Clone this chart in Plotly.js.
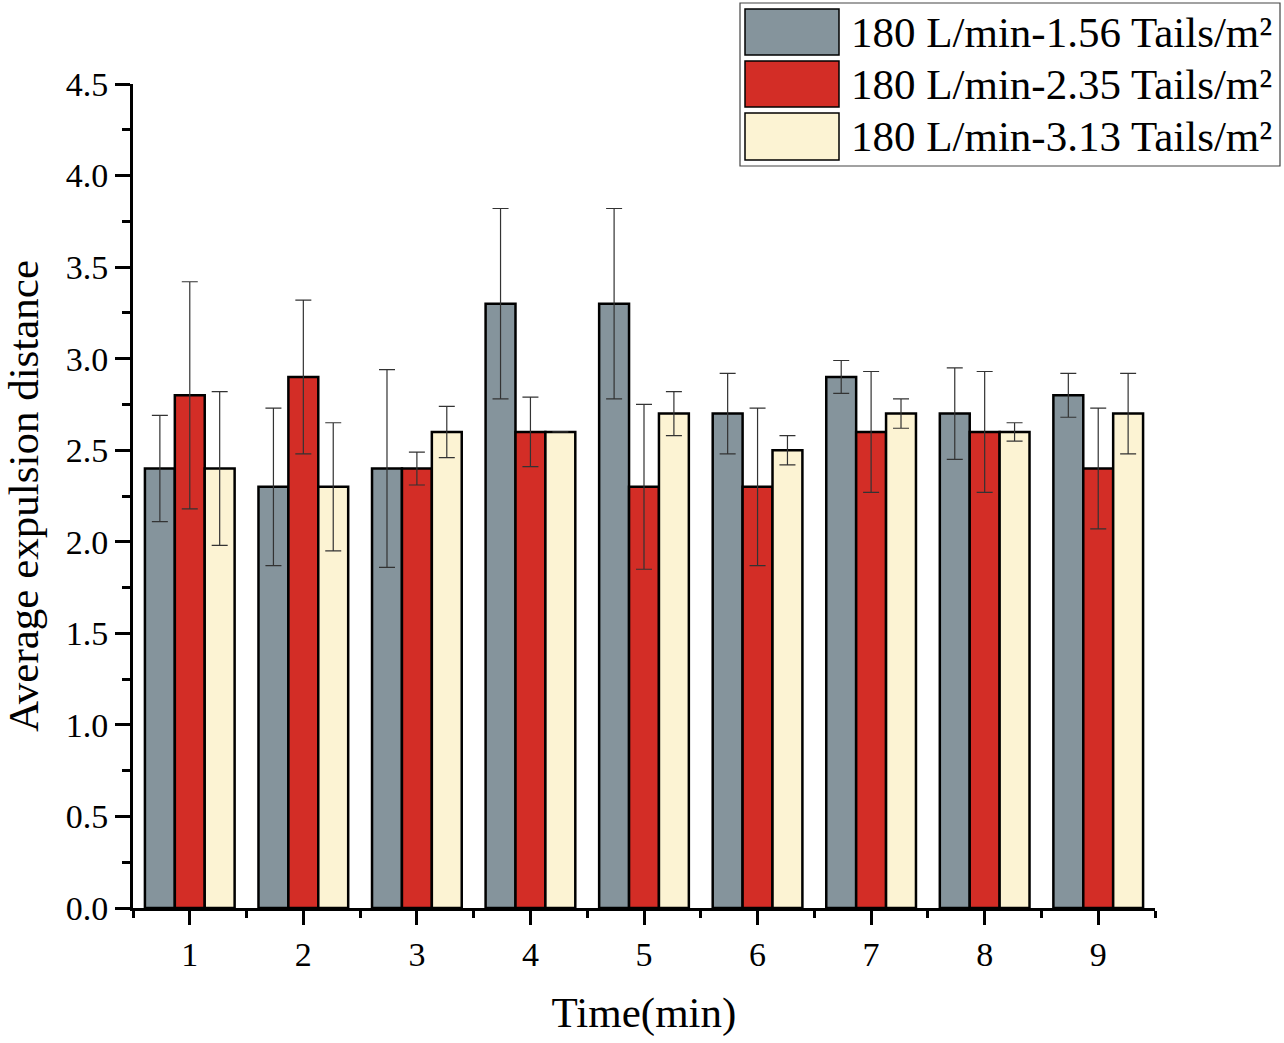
<!DOCTYPE html>
<html>
<head>
<meta charset="utf-8">
<script src="https://cdn.plot.ly/plotly-3.0.1.min.js"></script>
<style>html,body{margin:0;padding:0;background:#fff;}#chart{width:1284px;height:1043px;}</style>
</head>
<body>
<div id="chart"></div>
<script>
// ---- data ----
const times = [1, 2, 3, 4, 5, 6, 7, 8, 9];
const seriesNames = ["180 L/min-1.56 Tails/m²", "180 L/min-2.35 Tails/m²", "180 L/min-3.13 Tails/m²"];
const s156 = [2.4, 2.3, 2.4, 3.3, 3.3, 2.7, 2.9, 2.7, 2.8];
const s235 = [2.8, 2.9, 2.4, 2.6, 2.3, 2.3, 2.6, 2.6, 2.4];
const s313 = [2.4, 2.3, 2.6, 2.6, 2.7, 2.5, 2.7, 2.6, 2.7];
const e156 = [0.29, 0.43, 0.54, 0.52, 0.52, 0.22, 0.09, 0.25, 0.12];
const e235 = [0.62, 0.42, 0.09, 0.19, 0.45, 0.43, 0.33, 0.33, 0.33];
const e313 = [0.42, 0.35, 0.14, 0.00, 0.12, 0.08, 0.08, 0.05, 0.22];
const yTickVals = [0, 0.5, 1, 1.5, 2, 2.5, 3, 3.5, 4, 4.5];
const yTickText = ["0.0", "0.5", "1.0", "1.5", "2.0", "2.5", "3.0", "3.5", "4.0", "4.5"];
const xTickText = ["1", "2", "3", "4", "5", "6", "7", "8", "9"];

// ---- style ----
const colors = ["#85949C", "#D32D26", "#FCF3D3"];
const values = [s156, s235, s313];
const errors = [e156, e235, e313];
const FONT = "'Liberation Serif', 'Times New Roman', serif";

const traces = values.map((v, i) => ({
  type: "bar",
  x: times,
  y: v,
  name: seriesNames[i],
  marker: { color: colors[i], line: { color: "#000", width: 2.5 } },
  error_y: { type: "data", array: errors[i], visible: true, color: "#333", thickness: 1.2, width: 8 },
  showlegend: false
}));

// plot area in pixels
const L = 133, R = 1155, T = 84, B = 908;
const px = x => (x - L) / (R - L);
const py = y => (B - y) / (B - T);

const shapes = [{
  type: "rect", xref: "paper", yref: "paper",
  x0: px(740), x1: px(1280), y0: py(166), y1: py(3),
  line: { color: "#444", width: 1.2 }, fillcolor: "#fff", layer: "above"
}];
const annotations = [];
const rows = [[9, 55], [61, 107], [113, 160]];
rows.forEach((r, i) => {
  shapes.push({
    type: "rect", xref: "paper", yref: "paper",
    x0: px(745), x1: px(839), y0: py(r[1]), y1: py(r[0]),
    line: { color: "#000", width: 1.5 }, fillcolor: colors[i], layer: "above"
  });
  annotations.push({
    xref: "paper", yref: "paper", x: px(849), y: py((r[0] + r[1]) / 2),
    xanchor: "left", yanchor: "middle", showarrow: false,
    text: seriesNames[i], font: { family: FONT, size: 43, color: "#000" }
  });
});

const layout = {
  width: 1284, height: 1043,
  margin: { l: L, r: 1284 - R, t: T, b: 1043 - B, pad: 0 },
  paper_bgcolor: "#fff", plot_bgcolor: "#fff",
  barmode: "group", bargap: 0.21, bargroupgap: 0,
  font: { family: FONT, color: "#000" },
  xaxis: {
    range: [0.5, 9.5], tickvals: times, ticktext: xTickText,
    showline: true, linecolor: "#000", linewidth: 3, mirror: false,
    ticks: "outside", ticklen: 14, tickwidth: 3, tickcolor: "#000",
    tickfont: { family: FONT, size: 34, color: "#000" },
    showgrid: false, zeroline: false,
    minor: { tick0: 0.5, dtick: 1, ticks: "outside", ticklen: 7, tickwidth: 3, tickcolor: "#000", showgrid: false },
    title: { text: "Time(min)", font: { family: FONT, size: 43, color: "#000" }, standoff: 26 }
  },
  yaxis: {
    range: [0, 4.5], tickvals: yTickVals, ticktext: yTickText,
    showline: true, linecolor: "#000", linewidth: 3,
    ticks: "outside", ticklen: 15, tickwidth: 3, tickcolor: "#000",
    tickfont: { family: FONT, size: 34, color: "#000" },
    showgrid: false, zeroline: false,
    minor: { tick0: 0, dtick: 0.25, ticks: "outside", ticklen: 8, tickwidth: 3, tickcolor: "#000", showgrid: false },
    title: { text: "Average expulsion distance", font: { family: FONT, size: 43, color: "#000" }, standoff: 20 }
  },
  shapes: shapes,
  annotations: annotations,
  showlegend: false
};

Plotly.newPlot("chart", traces, layout, { displayModeBar: false, staticPlot: true });
</script>
</body>
</html>
